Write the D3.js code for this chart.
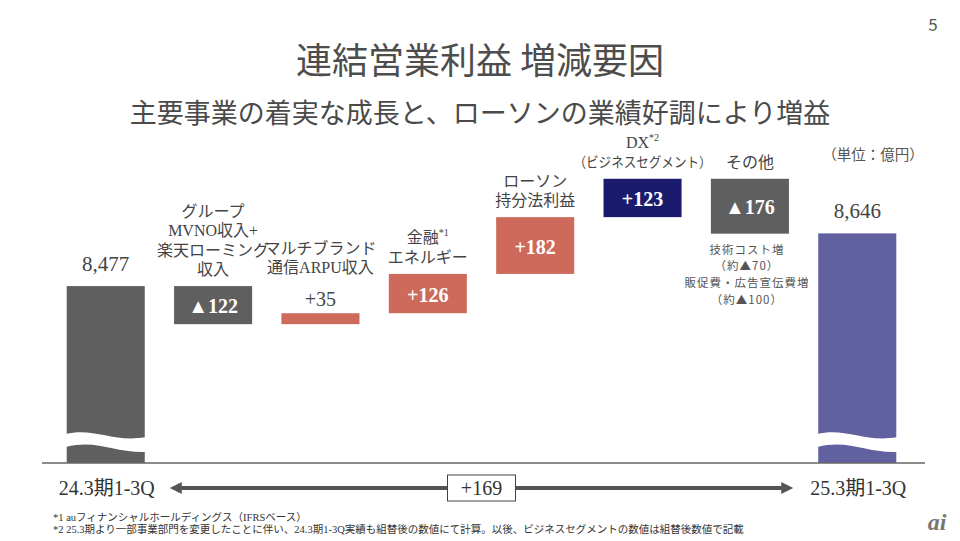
<!DOCTYPE html>
<html>
<head>
<meta charset="utf-8">
<script src="https://cdn.jsdelivr.net/npm/d3@7"></script>
<style>
  body { margin: 0; background: #fff; }
  svg { display: block; }
</style>
</head>
<body>
<div id="chart"></div>
<script>
const WIDTH = 960;
const HEIGHT = 541;

// --- data (units: 億円) ---
const steps = ["start", "mvno", "arpu", "finance", "lawson", "dx", "other", "end"];
const values = [8477, -122, 35, 126, 182, 123, -176, 8646];
const kinds = ["total", "delta", "delta", "delta", "delta", "delta", "delta", "total"];
const valueLabels = ["8,477", "▲122", "+35", "+126", "+182", "+123", "▲176", "8,646"];
const stepLabels = [
    [],
    ["グループ", "MVNO収入+", "楽天ローミング", "収入"],
    ["マルチブランド", "通信ARPU収入"],
    ["金融^*1", "エネルギー"],
    ["ローソン", "持分法利益"],
    ["DX^*2", "（ビジネスセグメント）"],
    ["その他"],
    []
];
const otherNotes = ["技術コスト増", "（約▲70）", "販促費・広告宣伝費増", "（約▲100）"];
const periodLabels = ["24.3期1-3Q", "25.3期1-3Q"];
const totalChange = "+169";
const title = "連結営業利益 増減要因";
const subtitle = "主要事業の着実な成長と、ローソンの業績好調により増益";
const unitLabel = "（単位：億円）";
const footnotes = [
    "*1 auフィナンシャルホールディングス（IFRSベース）",
    "*2 25.3期より一部事業部門を変更したことに伴い、24.3期1-3Q実績も組替後の数値にて計算。以後、ビジネスセグメントの数値は組替後数値で記載"
];

// --- styles ---
const barColors = ["#5f5f5f", "#5f5f5f", "#cd6a5c", "#cd6a5c", "#cd6a5c", "#1b1b6e", "#5f5f5f", "#6161a0"];
const SERIF = '"Liberation Serif", "Noto Sans CJK JP", serif';
const SANS = '"Noto Sans CJK JP", sans-serif';
const TEXT = "#444";

let svg = d3.select("#chart")
    .append("svg")
    .attr("width", WIDTH)
    .attr("height", HEIGHT);

let x = d3.scaleBand()
    .domain(steps)
    .range([52, 911])
    .paddingInner(0.273)
    .paddingOuter(0.137);

let y = d3.scaleLinear()
    .domain([7910, 8910])
    .range([463, 151]);

// running totals for the waterfall
let running = 0;
let bars = steps.map((s, i) => {
    let v0, v1;
    if (kinds[i] === "total") {
        v0 = y.domain()[0];
        v1 = values[i];
        running = values[i];
    } else {
        v0 = running;
        v1 = running + values[i];
        running = v1;
    }
    return {key: s, i: i, kind: kinds[i], lo: Math.min(v0, v1), hi: Math.max(v0, v1)};
});

// titles
svg.append("text")
    .attr("x", WIDTH / 2).attr("y", 58)
    .attr("text-anchor", "middle").attr("dominant-baseline", "central")
    .style("font-family", SANS).style("font-size", "36px").style("font-weight", 400)
    .style("fill", "#4d4d4d")
    .text(title);

svg.append("text")
    .attr("x", WIDTH / 2).attr("y", 111)
    .attr("text-anchor", "middle").attr("dominant-baseline", "central")
    .style("font-family", SANS).style("font-size", "27px").style("font-weight", 400)
    .style("fill", "#4a4a4a")
    .text(subtitle);

svg.append("text")
    .attr("x", 933).attr("y", 23)
    .attr("text-anchor", "middle").attr("dominant-baseline", "central")
    .style("font-family", SANS).style("font-size", "17px")
    .style("fill", "#555")
    .text("5");

svg.append("text")
    .attr("x", 873).attr("y", 153)
    .attr("text-anchor", "middle").attr("dominant-baseline", "central")
    .style("font-family", SANS).style("font-size", "14.5px")
    .style("fill", "#555")
    .text(unitLabel);

// bars
let g = svg.append("g");

g.selectAll(".bar")
    .data(bars)
    .enter()
    .append("rect")
    .attr("class", "bar")
    .attr("x", d => x(d.key))
    .attr("y", d => y(d.hi))
    .attr("width", x.bandwidth())
    .attr("height", d => y(d.lo) - y(d.hi))
    .style("fill", d => barColors[d.i]);

// wavy break on the two total bars
g.selectAll(".break")
    .data(bars.filter(d => d.kind === "total"))
    .enter()
    .append("path")
    .attr("class", "break")
    .attr("d", d => {
        let x0 = x(d.key) - 1, w = x.bandwidth() + 2, x1 = x0 + w;
        return `M${x0},434 C${x0 + w * 0.35},427 ${x0 + w * 0.6},443 ${x1},437`
            + ` L${x1},452 C${x0 + w * 0.6},453 ${x0 + w * 0.4},439 ${x0},447 Z`;
    })
    .style("fill", "#fff");

// value labels: inside tall delta bars, above totals and thin bars
bars.forEach(d => {
    let top = y(d.hi), bottom = y(d.lo);
    let inside = d.kind === "delta" && bottom - top > 22;
    let t = g.append("text")
        .attr("x", x(d.key) + x.bandwidth() / 2)
        .attr("text-anchor", "middle").attr("dominant-baseline", "central")
        .style("font-family", SERIF)
        .text(valueLabels[d.i]);
    if (inside) {
        t.attr("y", (top + bottom) / 2 + 1)
            .style("font-size", "20px").style("font-weight", "bold").style("fill", "#fff");
    } else if (d.kind === "total") {
        t.attr("y", top - 22).style("font-size", "21px").style("fill", TEXT);
    } else {
        t.attr("y", top - 14).style("font-size", "20px").style("fill", TEXT);
    }
    d.labelTop = inside ? top : top - 29;
});

// category labels above each step
bars.forEach(d => {
    let lines = stepLabels[d.i];
    let n = lines.length;
    lines.forEach((line, j) => {
        let parts = line.split("^");
        let t = g.append("text")
            .attr("x", x(d.key) + x.bandwidth() / 2)
            .attr("y", d.labelTop - 17 - (n - 1 - j) * 19.5)
            .attr("text-anchor", "middle").attr("dominant-baseline", "central")
            .style("font-family", SERIF).style("font-size", "16px").style("fill", TEXT);
        t.append("tspan").text(parts[0]);
        if (parts[1]) {
            t.append("tspan").attr("dy", -5).style("font-size", "10px").text(parts[1]);
        }
        if (line.startsWith("（")) {
            t.attr("textLength", 138).attr("lengthAdjust", "spacingAndGlyphs")
                .style("font-size", "14px");
        }
    });
});

// breakdown under その他
let other = bars[steps.indexOf("other")];
otherNotes.forEach((line, j) => {
    g.append("text")
        .attr("x", x(other.key) + x.bandwidth() / 2 - 3)
        .attr("y", y(other.lo) + 15 + j * 16.8)
        .attr("text-anchor", "middle").attr("dominant-baseline", "central")
        .style("font-family", SANS).style("font-size", "11.5px")
        .style("letter-spacing", "1px").style("fill", "#555")
        .text(line);
});

// axis baseline
svg.append("line")
    .attr("x1", 42).attr("x2", 925)
    .attr("y1", y.range()[0]).attr("y2", y.range()[0])
    .style("stroke", "#666").style("stroke-width", 1.5);

// period labels
let first = steps[0], last = steps[steps.length - 1];
[first, last].forEach((k, i) => {
    svg.append("text")
        .attr("x", x(k) + x.bandwidth() / 2 + 1)
        .attr("y", 488)
        .attr("text-anchor", "middle").attr("dominant-baseline", "central")
        .style("font-family", SERIF).style("font-size", "20px").style("fill", "#333")
        .text(periodLabels[i]);
});

// double arrow with total change
let ax0 = x(first) + x.bandwidth() + 25;
let ax1 = x(last) - 25;
let ay = 488;
svg.append("line")
    .attr("x1", ax0 + 10).attr("x2", ax1 - 10)
    .attr("y1", ay).attr("y2", ay)
    .style("stroke", "#555").style("stroke-width", 4);
svg.append("path")
    .attr("d", `M${ax0},${ay} L${ax0 + 12},${ay - 6} L${ax0 + 12},${ay + 6} Z`
        + ` M${ax1},${ay} L${ax1 - 12},${ay - 6} L${ax1 - 12},${ay + 6} Z`)
    .style("fill", "#555");

let mid = (ax0 + ax1) / 2;
svg.append("rect")
    .attr("x", mid - 34).attr("y", ay - 13)
    .attr("width", 68).attr("height", 26)
    .style("fill", "#fff").style("stroke", "#444").style("stroke-width", 1);
svg.append("text")
    .attr("x", mid).attr("y", ay)
    .attr("text-anchor", "middle").attr("dominant-baseline", "central")
    .style("font-family", SERIF).style("font-size", "20px").style("fill", "#333")
    .text(totalChange);

// footnotes
footnotes.forEach((f, i) => {
    svg.append("text")
        .attr("x", 53).attr("y", 517 + i * 12)
        .attr("dominant-baseline", "central")
        .style("font-family", SERIF).style("font-size", "10.5px").style("fill", "#333")
        .text(f);
});

// watermark
svg.append("text")
    .attr("x", 937).attr("y", 522)
    .attr("text-anchor", "middle").attr("dominant-baseline", "central")
    .style("font-family", SERIF).style("font-size", "24px")
    .style("font-style", "italic").style("font-weight", "bold")
    .style("fill", "#777")
    .text("ai");
</script>
</body>
</html>
